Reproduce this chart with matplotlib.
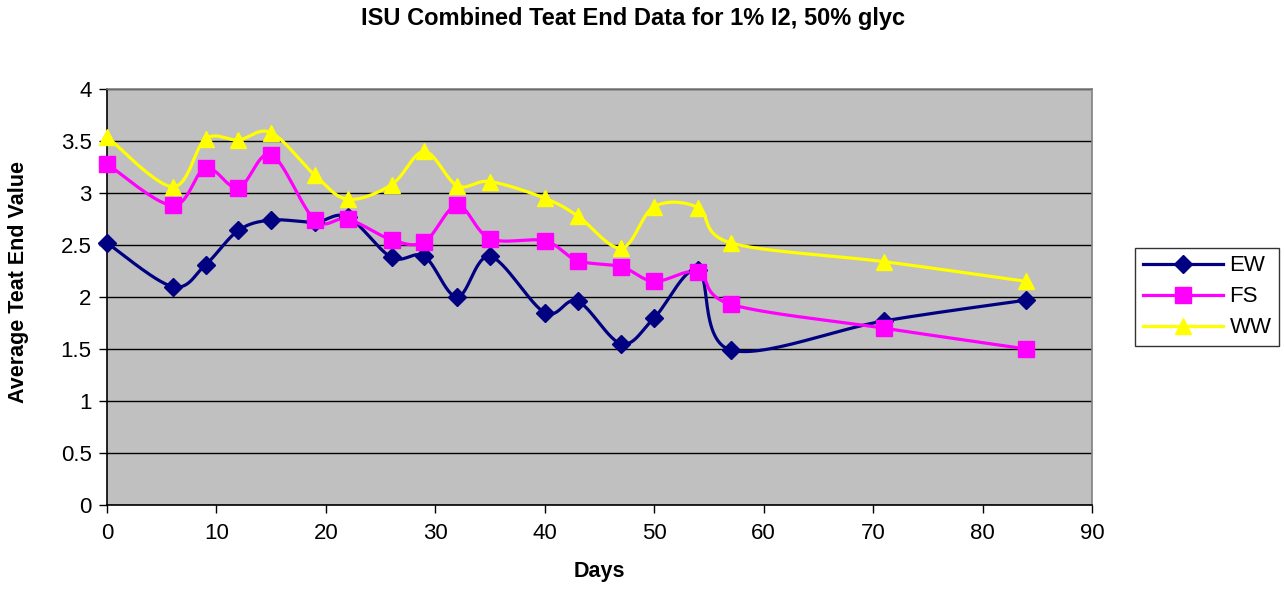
import numpy as np
import matplotlib
matplotlib.use("Agg")
import matplotlib.pyplot as plt
from matplotlib.lines import Line2D

plt.rcParams['font.family'] = ['Liberation Sans', 'DejaVu Sans']

days = [0, 6, 9, 12, 15, 19, 22, 26, 29, 32, 35, 40, 43, 47, 50, 54, 57, 71, 84]
ew = [2.52, 2.10, 2.31, 2.64, 2.74, 2.72, 2.77, 2.38, 2.39, 2.00, 2.39, 1.85, 1.96,
      1.55, 1.80, 2.26, 1.49, 1.77, 1.97]
fs = [3.28, 2.88, 3.24, 3.05, 3.37, 2.74, 2.75, 2.55, 2.53, 2.88, 2.56, 2.54, 2.35,
      2.29, 2.15, 2.24, 1.93, 1.70, 1.50]
ww = [3.54, 3.06, 3.52, 3.51, 3.58, 3.17, 2.94, 3.08, 3.40, 3.07, 3.11, 2.95, 2.78,
      2.47, 2.87, 2.86, 2.52, 2.34, 2.15]

series = [("EW", ew, "#000080", "D", 9),
          ("FS", fs, "#FF00FF", "s", 11),
          ("WW", ww, "#FFFF00", "^", 12)]


def smooth(x, y, n=30):
    """Catmull-Rom style Bezier smoothing (like Excel's smoothed line)."""
    x = np.asarray(x, float)
    y = np.asarray(y, float)
    px = np.concatenate([[x[0]], x, [x[-1]]])
    py = np.concatenate([[y[0]], y, [y[-1]]])
    xs, ys = [], []
    t = np.linspace(0, 1, n)
    for i in range(1, len(px) - 2):
        p0 = np.array([px[i - 1], py[i - 1]])
        p1 = np.array([px[i], py[i]])
        p2 = np.array([px[i + 1], py[i + 1]])
        p3 = np.array([px[i + 2], py[i + 2]])
        c1 = p1 + (p2 - p0) / 6.0
        c2 = p2 - (p3 - p1) / 6.0
        b = ((1 - t) ** 3)[:, None] * p1 + (3 * (1 - t) ** 2 * t)[:, None] * c1 + \
            (3 * (1 - t) * t ** 2)[:, None] * c2 + (t ** 3)[:, None] * p2
        xs.append(b[:, 0])
        ys.append(b[:, 1])
    return np.concatenate(xs), np.concatenate(ys)


fig = plt.figure(figsize=(12.84, 5.90), dpi=100)
ax = fig.add_axes([107 / 1284, 85 / 590, 985 / 1284, 416 / 590])
ax.set_facecolor("#C0C0C0")

handles = []
for name, vals, col, mk, ms in series:
    sx, sy = smooth(days, vals)
    ax.plot(sx, sy, color=col, lw=2.3, zorder=3, clip_on=False)
    ax.plot(days, vals, ls="none", marker=mk, color=col, ms=ms, zorder=4,
            clip_on=False)
    handles.append(Line2D([0], [0], color=col, lw=2.3, marker=mk, ms=ms))

ax.set_xlim(0, 90)
ax.set_ylim(0, 4)
ax.set_xticks(np.arange(0, 91, 10))
ax.set_yticks(np.arange(0, 4.01, 0.5))
ax.set_yticklabels(["0", "0.5", "1", "1.5", "2", "2.5", "3", "3.5", "4"])
ax.yaxis.grid(True, color="black", lw=1)
ax.set_axisbelow(True)
for s in ["top", "right"]:
    ax.spines[s].set_color("#808080")
    ax.spines[s].set_linewidth(1.2)
for s in ["left", "bottom"]:
    ax.spines[s].set_color("black")
    ax.spines[s].set_linewidth(1.2)
ax.tick_params(axis="both", direction="out", length=6, width=1, labelsize=16,
               colors="black")
ax.tick_params(axis="x", pad=7)
ax.tick_params(axis="y", pad=5)

ax.set_xlabel("Days", fontsize=15.5, fontweight="bold", labelpad=12)
ax.set_ylabel("Average Teat End Value", fontsize=15.5, fontweight="bold")
ax.yaxis.set_label_coords(-0.079, 0.535)
fig.text(633 / 1284, 1 - 18 / 590, "ISU Combined Teat End Data for 1% I2, 50% glyc",
         ha="center", va="center", fontsize=17, fontweight="bold")

leg = fig.legend(handles, [s[0] for s in series], loc="center left",
                 bbox_to_anchor=(1135 / 1284, 1 - 297 / 590), fontsize=16,
                 frameon=True, fancybox=False, edgecolor="black",
                 handlelength=3.6, borderpad=0.35, labelspacing=0.45,
                 handletextpad=0.3, borderaxespad=0)
leg.get_frame().set_linewidth(1)

fig.savefig("out.png", dpi=100, facecolor="white")
